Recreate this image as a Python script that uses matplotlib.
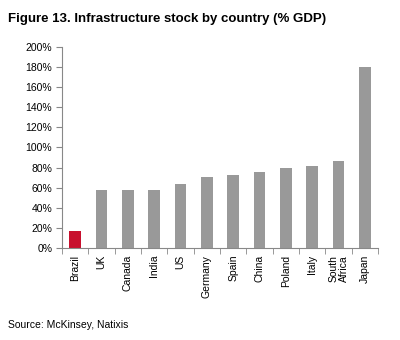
import numpy as np
import matplotlib
matplotlib.use("Agg")
import matplotlib.pyplot as plt
from matplotlib.ticker import FixedLocator

plt.rcParams['font.family'] = ['Liberation Sans', 'DejaVu Sans']

countries = ['Brazil', 'UK', 'Canada', 'India', 'US', 'Germany', 'Spain',
             'China', 'Poland', 'Italy', 'South\nAfrica', 'Japan']
stock = [17, 58, 58, 58, 64, 71, 73, 76, 80, 82, 87, 180]
yticks = list(range(0, 201, 20))

grey = '#999999'
red = '#C8102E'
axis_col = '#888888'

fig = plt.figure(figsize=(4, 3.4), dpi=100)
ax = fig.add_axes([0.155, 0.2706, 0.79, 0.5914])

x = np.arange(len(countries))
colors = [red] + [grey] * (len(countries) - 1)
ax.bar(x, stock, width=0.45, color=colors, zorder=2)

ax.set_xlim(-0.5, len(countries) - 0.5)
ax.set_ylim(0, 200)
ax.set_yticks(yticks)
ax.set_yticklabels([f'{v}%' for v in yticks], fontsize=7.5)

ax.set_xticks(x)
ax.set_xticklabels(countries, rotation=90, fontsize=7.5, linespacing=1.0)
ax.xaxis.set_minor_locator(FixedLocator(np.arange(-0.5, len(countries), 1)))
ax.tick_params(axis='x', which='major', length=0, pad=5)
ax.tick_params(axis='x', which='minor', length=4, color=axis_col, direction='out')
ax.tick_params(axis='y', length=4, color=axis_col, direction='out', pad=3)

for s in ['top', 'right']:
    ax.spines[s].set_visible(False)
for s in ['left', 'bottom']:
    ax.spines[s].set_color(axis_col)
    ax.spines[s].set_linewidth(0.8)

fig.text(0.02, 0.945, 'Figure 13. Infrastructure stock by country (% GDP)',
         fontsize=9.5, fontweight='bold', va='center', ha='left')
fig.text(0.02, 0.045, 'Source: McKinsey, Natixis', fontsize=7.5,
         va='center', ha='left')

fig.savefig('out.png', dpi=100)
